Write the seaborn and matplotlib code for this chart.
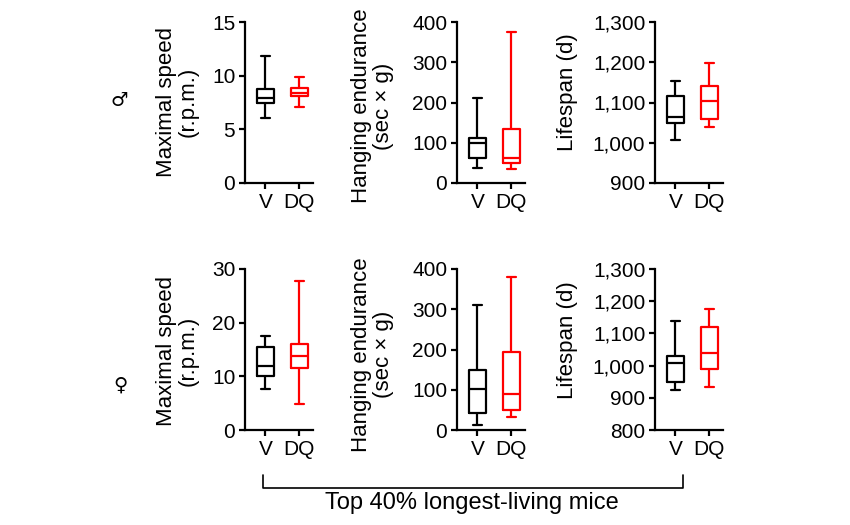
import numpy as np
import pandas as pd
import seaborn as sns
import matplotlib.pyplot as plt
from matplotlib.lines import Line2D
from matplotlib.ticker import FuncFormatter

# five-number summaries (min, q1, median, q3, max)
groups = ["V", "DQ"]

male_speed_V = [6.05, 7.5, 7.9, 8.8, 11.8]
male_speed_DQ = [7.05, 8.1, 8.4, 8.85, 9.85]
male_hang_V = [37, 61, 100, 113, 212]
male_hang_DQ = [36, 50, 63, 135, 374]
male_life_V = [1008, 1050, 1064, 1116, 1154]
male_life_DQ = [1039, 1058, 1104, 1142, 1198]

female_speed_V = [7.6, 10.1, 12.0, 15.5, 17.6]
female_speed_DQ = [4.9, 11.5, 13.75, 16.1, 27.7]
female_hang_V = [13, 42, 102, 150, 311]
female_hang_DQ = [32, 50, 89, 195, 381]
female_life_V = [923, 948, 1008, 1031, 1140]
female_life_DQ = [933, 990, 1040, 1121, 1175]

ylabels = ["Maximal speed\n(r.p.m.)", "Hanging endurance\n(sec × g)", "Lifespan (d)"]
male_ylims = [(0, 15), (0, 400), (900, 1300)]
male_yticks = [[0, 5, 10, 15], [0, 100, 200, 300, 400], [900, 1000, 1100, 1200, 1300]]
female_ylims = [(0, 30), (0, 400), (800, 1300)]
female_yticks = [[0, 10, 20, 30], [0, 100, 200, 300, 400],
                 [800, 900, 1000, 1100, 1200, 1300]]

sns.set_style("ticks")
plt.rcParams['font.family'] = ['Liberation Sans', 'DejaVu Sans']
for key in ["text.color", "axes.labelcolor", "xtick.color", "ytick.color"]:
    plt.rcParams[key] = "black"

fig = plt.figure(figsize=(8.5, 5.25), dpi=100)

lefts = [245, 457, 655]
label_x = [199, 394, 578]          # right edge of y label, px
male_label_y = [0.506, 0.478, 0.565]
female_label_y = [0.49, 0.47, 0.556]

rows = [
    (183, [(male_speed_V, male_speed_DQ), (male_hang_V, male_hang_DQ), (male_life_V, male_life_DQ)],
     male_ylims, male_yticks, male_label_y),
    (430, [(female_speed_V, female_speed_DQ), (female_hang_V, female_hang_DQ),
           (female_life_V, female_life_DQ)], female_ylims, female_yticks, female_label_y),
]

for bottom_px, panels, ylims, yticks, label_y in rows:
    for j, ((v, dq), ylim, yt) in enumerate(zip(panels, ylims, yticks)):
        ax = fig.add_axes([lefts[j] / 850, 1 - bottom_px / 525, 68 / 850, 161 / 525])
        df = pd.DataFrame({"group": ["V"] * len(v) + ["DQ"] * len(dq), "value": v + dq})
        sns.boxplot(data=df, x="group", y="value", hue="group", order=groups,
                    palette={"V": "black", "DQ": "red"}, fill=False, whis=(0, 100),
                    width=0.5, linewidth=1.6, showfliers=False, legend=False, ax=ax)
        ax.set_xlim(-0.6, 1.4)
        ax.set_ylim(*ylim)
        ax.set_yticks(yt)
        ax.yaxis.set_major_formatter(FuncFormatter(lambda val, pos: f"{val:,.0f}"))
        ax.set_xlabel("")
        ax.set_ylabel(ylabels[j], fontsize=16, linespacing=1.05)
        ax.yaxis.set_label_coords((label_x[j] - lefts[j]) / 68, label_y[j])
        ax.tick_params(labelsize=15, width=1.6, length=4, pad=3, color="black")
        for s in ["left", "bottom"]:
            ax.spines[s].set_linewidth(1.6)
            ax.spines[s].set_color("black")
        sns.despine(ax=ax)

fig.text(119 / 850, 1 - 101 / 525, "♂", fontsize=14,
         ha="center", va="center", family=['DejaVu Sans'])
fig.text(120 / 850, 1 - 385 / 525, "♀", fontsize=14,
         ha="center", va="center", family=['DejaVu Sans'])

# bracket under the bottom row
x0, x1 = 263 / 850, 683 / 850
ytop, ybot = 1 - 475 / 525, 1 - 488 / 525
fig.add_artist(Line2D([x0, x0, x1, x1], [ytop, ybot, ybot, ytop], color="black", lw=1.2))
fig.text(472 / 850, 1 - 503 / 525, "Top 40% longest-living mice", fontsize=17,
         ha="center", va="center")

fig.savefig("out.png", dpi=100)
